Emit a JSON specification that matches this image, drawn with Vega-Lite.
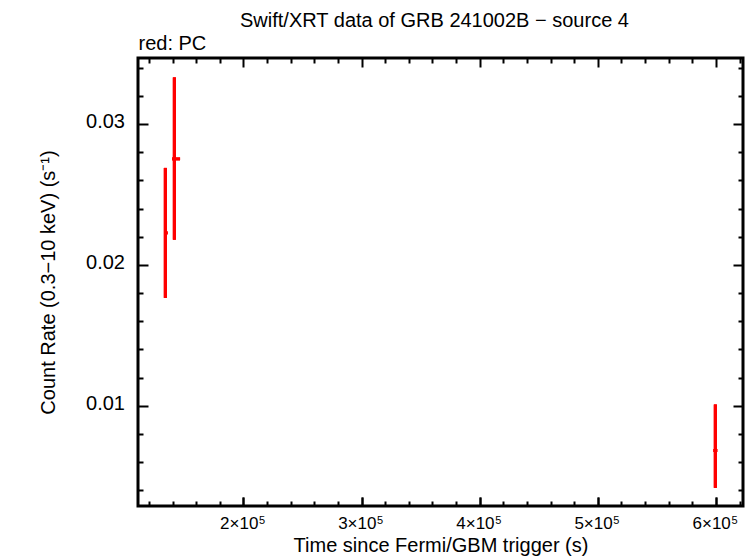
{
  "$schema": "https://vega.github.io/schema/vega-lite/v6.json",
  "autosize": {"type": "none"},
  "padding": {"left": 138, "top": 58, "right": 12, "bottom": 52},
  "width": 605,
  "height": 448,
  "background": "white",
  "title": {
    "text": "Swift/XRT data of GRB 241002B − source 4",
    "font": "Liberation Sans",
    "fontSize": 20,
    "fontWeight": "normal",
    "color": "black",
    "anchor": "middle",
    "dx": -6,
    "offset": 2
  },
  "config": {
    "view": {"stroke": "black", "strokeWidth": 3},
    "axis": {
      "domain": false,
      "grid": false,
      "labelFont": "Liberation Sans",
      "titleFont": "Liberation Sans",
      "labelColor": "black",
      "titleColor": "black",
      "tickColor": "black",
      "tickWidth": 2,
      "titleFontWeight": "normal",
      "labelFontSize": 20,
      "titleFontSize": 20,
      "labelOverlap": false,
      "labelFlush": false
    }
  },
  "data": {
    "values": [
      {"x": 133850, "xmin": 132740, "xmax": 135880, "y": 0.02227, "ymin": 0.01766, "ymax": 0.02688},
      {"x": 141480, "xmin": 139530, "xmax": 146310, "y": 0.02752, "ymin": 0.02179, "ymax": 0.0333},
      {"x": 599490, "xmin": 597800, "xmax": 601200, "y": 0.00683, "ymin": 0.00418, "ymax": 0.01009}
    ]
  },
  "resolve": {"scale": {"x": "shared", "y": "shared"}, "axis": {"x": "independent", "y": "independent"}},
  "layer": [
    {
      "mark": {"type": "rule", "color": "#ff0000", "strokeWidth": 3},
      "encoding": {
        "x": {"field": "x", "type": "quantitative",
          "scale": {"domain": [110690, 622900], "nice": false, "zero": false},
          "axis": {"orient": "bottom", "values": [200000, 300000, 400000, 500000, 600000],
            "tickSize": -9, "labelPadding": 31.5, "labelBaseline": "alphabetic", "labelFontSize": 17, "labelOffset": -4.8,
            "labelExpr": "format(datum.value / 100000, 'd') + '×10'",
            "title": "Time since Fermi/GBM trigger (s)", "titlePadding": 4}},
        "y": {"field": "ymin", "type": "quantitative",
          "scale": {"domain": [0.00289, 0.03468], "nice": false, "zero": false},
          "axis": {"orient": "left", "values": [0.01, 0.02, 0.03], "tickSize": -10,
            "labelPadding": 23.5, "labelBaseline": "alphabetic", "labelOffset": 4, "format": ".2f",
            "title": "Count Rate (0.3−10 keV) (s⁻¹)", "titlePadding": 27}},
        "y2": {"field": "ymax"}
      }
    },
    {
      "mark": {"type": "rule", "color": "#ff0000", "strokeWidth": 3},
      "encoding": {
        "x": {"field": "xmin", "type": "quantitative",
          "axis": {"orient": "bottom", "values": [120000, 140000, 160000, 180000, 220000, 240000, 260000, 280000, 320000, 340000, 360000, 380000, 420000, 440000, 460000, 480000, 520000, 540000, 560000, 580000, 620000],
            "tickSize": -5, "labels": false, "title": null}},
        "x2": {"field": "xmax"},
        "y": {"field": "y", "type": "quantitative",
          "axis": {"orient": "left", "values": [0.004, 0.006, 0.008, 0.012, 0.014, 0.016, 0.018, 0.022, 0.024, 0.026, 0.028, 0.032, 0.034],
            "tickSize": -5, "labels": false, "title": null}}
      }
    },
    {
      "mark": {"type": "rule", "color": "#ff0000", "strokeWidth": 3},
      "encoding": {
        "x": {"field": "x", "type": "quantitative",
          "axis": {"orient": "top", "values": [200000, 300000, 400000, 500000, 600000],
            "tickSize": -9, "labels": false,
            "title": "red: PC", "titleAnchor": "start", "titleAlign": "left", "titleBaseline": "alphabetic", "titlePadding": 8}},
        "y": {"field": "ymin", "type": "quantitative",
          "axis": {"orient": "right", "values": [0.01, 0.02, 0.03], "tickSize": -10, "labels": false, "title": null}},
        "y2": {"field": "ymax"}
      }
    },
    {
      "mark": {"type": "rule", "color": "#ff0000", "strokeWidth": 3},
      "encoding": {
        "x": {"field": "xmin", "type": "quantitative",
          "axis": {"orient": "top", "values": [120000, 140000, 160000, 180000, 220000, 240000, 260000, 280000, 320000, 340000, 360000, 380000, 420000, 440000, 460000, 480000, 520000, 540000, 560000, 580000, 620000],
            "tickSize": -5, "labels": false, "title": null}},
        "x2": {"field": "xmax"},
        "y": {"field": "y", "type": "quantitative",
          "axis": {"orient": "right", "values": [0.004, 0.006, 0.008, 0.012, 0.014, 0.016, 0.018, 0.022, 0.024, 0.026, 0.028, 0.032, 0.034],
            "tickSize": -5, "labels": false, "title": null}}
      }
    },
    {
      "mark": {"type": "rule", "color": "#ff0000", "strokeWidth": 3},
      "encoding": {
        "x": {"field": "x", "type": "quantitative",
          "axis": {"orient": "bottom", "values": [200000, 300000, 400000, 500000, 600000],
            "tickSize": -9, "labelPadding": 26.5, "labelBaseline": "alphabetic", "labelFontSize": 11, "labelOffset": 18,
            "labelExpr": "'5'", "title": null}},
        "y": {"field": "ymin", "type": "quantitative", "axis": null},
        "y2": {"field": "ymax"}
      }
    }
  ]
}
